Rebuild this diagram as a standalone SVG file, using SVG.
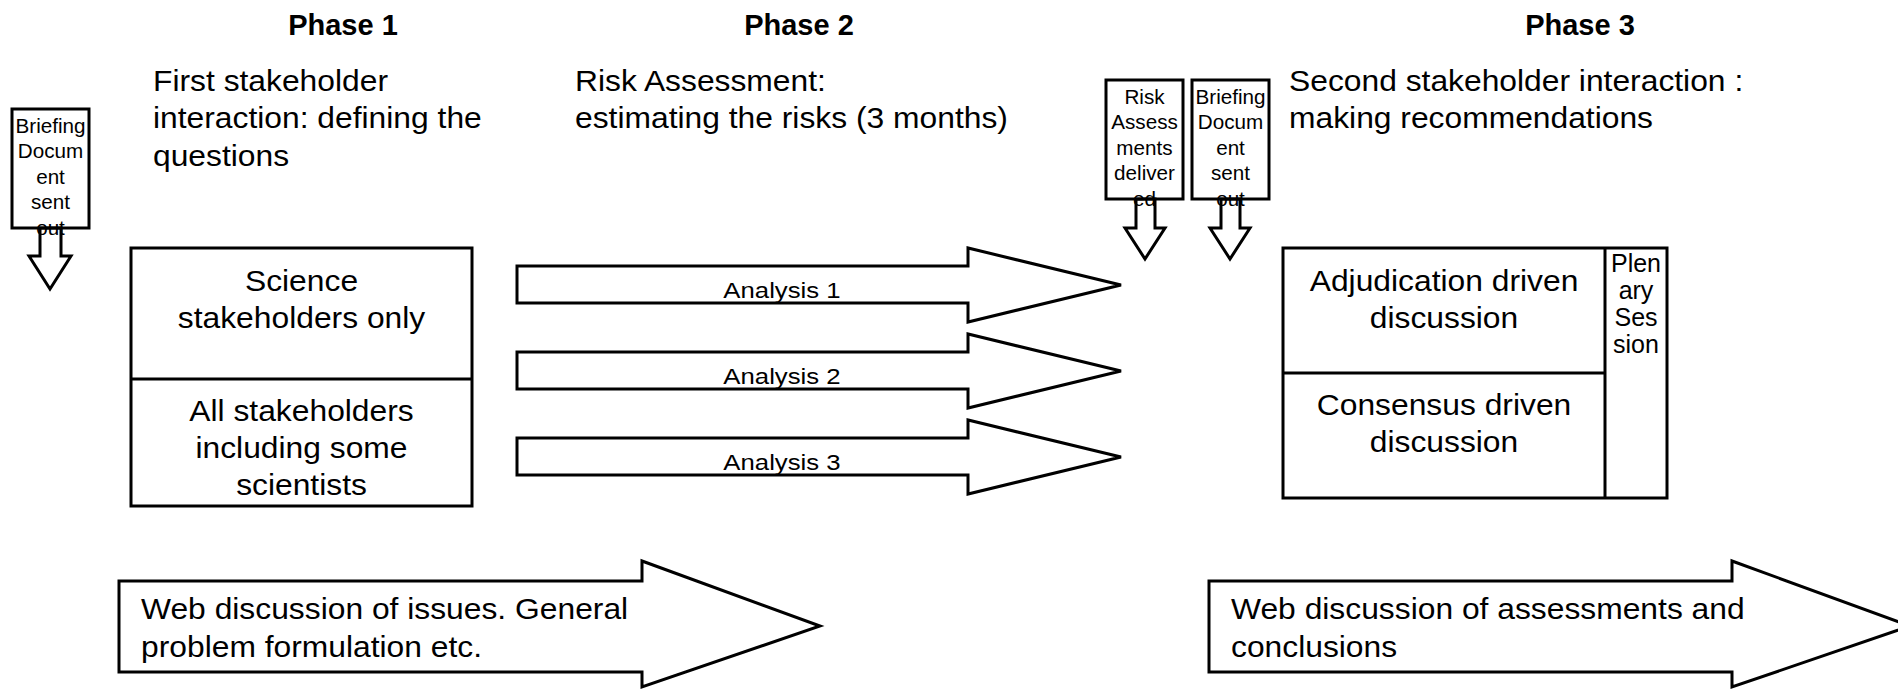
<svg xmlns="http://www.w3.org/2000/svg" width="1898" height="690" viewBox="0 0 1898 690">
<style>
  text { font-family: "Liberation Sans", Arial, sans-serif; fill: #000; }
  .ph { font-size: 29px; font-weight: bold; text-anchor: middle; }
  .big { font-size: 30px; }
  .mid { font-size: 30px; text-anchor: middle; }
  .an { font-size: 23px; text-anchor: middle; }
  .sm { font-size: 19.5px; text-anchor: middle; }
  .pl { font-size: 25px; text-anchor: middle; }
  .box { fill: #fff; stroke: #000; stroke-width: 3; }
  .ln { fill: none; stroke: #000; stroke-width: 3; }
  .arw { fill: none; stroke: #000; stroke-width: 3; stroke-linejoin: miter; }
</style>
<rect width="1898" height="690" fill="#fff"/>

<g id="phase-titles">
  <text class="ph" x="343" y="35">Phase 1</text>
  <text class="ph" x="799" y="35">Phase 2</text>
  <text class="ph" x="1580" y="35">Phase 3</text>
</g>

<g id="phase1-desc">
  <text class="big" transform="translate(153 91) scale(1.06 1)"><tspan x="0" y="0">First stakeholder</tspan><tspan x="0" y="37.5">interaction: defining the</tspan><tspan x="0" y="75">questions</tspan></text>
</g>
<g id="phase2-desc">
  <text class="big" transform="translate(575 91) scale(1.06 1)"><tspan x="0" y="0">Risk Assessment:</tspan><tspan x="0" y="37.5">estimating the risks (3 months)</tspan></text>
</g>
<g id="phase3-desc">
  <text class="big" transform="translate(1289 91) scale(1.06 1)"><tspan x="0" y="0">Second stakeholder interaction :</tspan><tspan x="0" y="37.5">making recommendations</tspan></text>
</g>

<g id="briefing1">
  <rect class="box" x="12" y="109" width="77" height="119"/>
  <text class="sm" transform="translate(50.5 0) scale(1.06 1)"><tspan x="0" y="133">Briefing</tspan><tspan x="0" y="158.5">Docum</tspan><tspan x="0" y="184">ent</tspan><tspan x="0" y="209.5">sent</tspan><tspan x="0" y="235">out</tspan></text>
</g>

<g id="risk-delivered">
  <rect class="box" x="1106" y="80" width="77" height="119"/>
  <text class="sm" transform="translate(1144.5 0) scale(1.06 1)"><tspan x="0" y="104">Risk</tspan><tspan x="0" y="129.5">Assess</tspan><tspan x="0" y="155">ments</tspan><tspan x="0" y="180.5">deliver</tspan><tspan x="0" y="206">ed</tspan></text>
</g>

<g id="briefing2">
  <rect class="box" x="1192" y="80" width="77" height="119"/>
  <text class="sm" transform="translate(1230.5 0) scale(1.06 1)"><tspan x="0" y="104">Briefing</tspan><tspan x="0" y="129.5">Docum</tspan><tspan x="0" y="155">ent</tspan><tspan x="0" y="180.5">sent</tspan><tspan x="0" y="206">out</tspan></text>
</g>

<g id="connectors">
  <polygon class="arw" points="40,228 40,256 29,256 50,289 71,256 61,256 61,228"/>
  <polygon class="arw" points="1136,199 1136,228 1125,228 1145,259 1165,228 1155,228 1155,199"/>
  <polygon class="arw" points="1221,199 1221,228 1210,228 1230,259 1250,228 1240,228 1240,199"/>
</g>

<g id="science-box">
  <rect class="box" x="131" y="248" width="341" height="258"/>
  <line class="ln" x1="131" y1="379" x2="472" y2="379"/>
  <text class="mid" transform="translate(301.5 0) scale(1.06 1)"><tspan x="0" y="291">Science</tspan><tspan x="0" y="328">stakeholders only</tspan></text>
  <text class="mid" transform="translate(301.5 0) scale(1.06 1)"><tspan x="0" y="421">All stakeholders</tspan><tspan x="0" y="458">including some</tspan><tspan x="0" y="495">scientists</tspan></text>
</g>

<g id="analysis1">
  <polygon class="box" points="517,266 968,266 968,248 1121,285 968,322 968,303 517,303"/>
  <text class="an" transform="translate(782 298) scale(1.12 1)">Analysis 1</text>
</g>
<g id="analysis2">
  <polygon class="box" points="517,352 968,352 968,334 1121,371 968,408 968,389 517,389"/>
  <text class="an" transform="translate(782 384) scale(1.12 1)">Analysis 2</text>
</g>
<g id="analysis3">
  <polygon class="box" points="517,438 968,438 968,420 1121,457 968,494 968,475 517,475"/>
  <text class="an" transform="translate(782 470) scale(1.12 1)">Analysis 3</text>
</g>

<g id="discussion-box">
  <rect class="box" x="1283" y="248" width="384" height="250"/>
  <line class="ln" x1="1283" y1="373" x2="1605" y2="373"/>
  <line class="ln" x1="1605" y1="248" x2="1605" y2="498"/>
  <text class="mid" transform="translate(1444 0) scale(1.06 1)"><tspan x="0" y="291">Adjudication driven</tspan><tspan x="0" y="328">discussion</tspan></text>
  <text class="mid" transform="translate(1444 0) scale(1.06 1)"><tspan x="0" y="415">Consensus driven</tspan><tspan x="0" y="452">discussion</tspan></text>
  <text class="pl"><tspan x="1636" y="272">Plen</tspan><tspan x="1636" y="299">ary</tspan><tspan x="1636" y="326">Ses</tspan><tspan x="1636" y="353">sion</tspan></text>
</g>

<g id="web-discussion-1">
  <polygon class="box" points="119,581 642,581 642,561 820,626 642,687 642,672 119,672"/>
  <text class="big" transform="translate(141 0) scale(1.06 1)"><tspan x="0" y="619">Web discussion of issues. General</tspan><tspan x="0" y="657">problem formulation etc.</tspan></text>
</g>

<g id="web-discussion-2">
  <polygon class="box" points="1209,581 1732,581 1732,561 1910,626 1732,687 1732,672 1209,672"/>
  <text class="big" transform="translate(1231 0) scale(1.06 1)"><tspan x="0" y="619">Web discussion of assessments and</tspan><tspan x="0" y="657">conclusions</tspan></text>
</g>
</svg>
